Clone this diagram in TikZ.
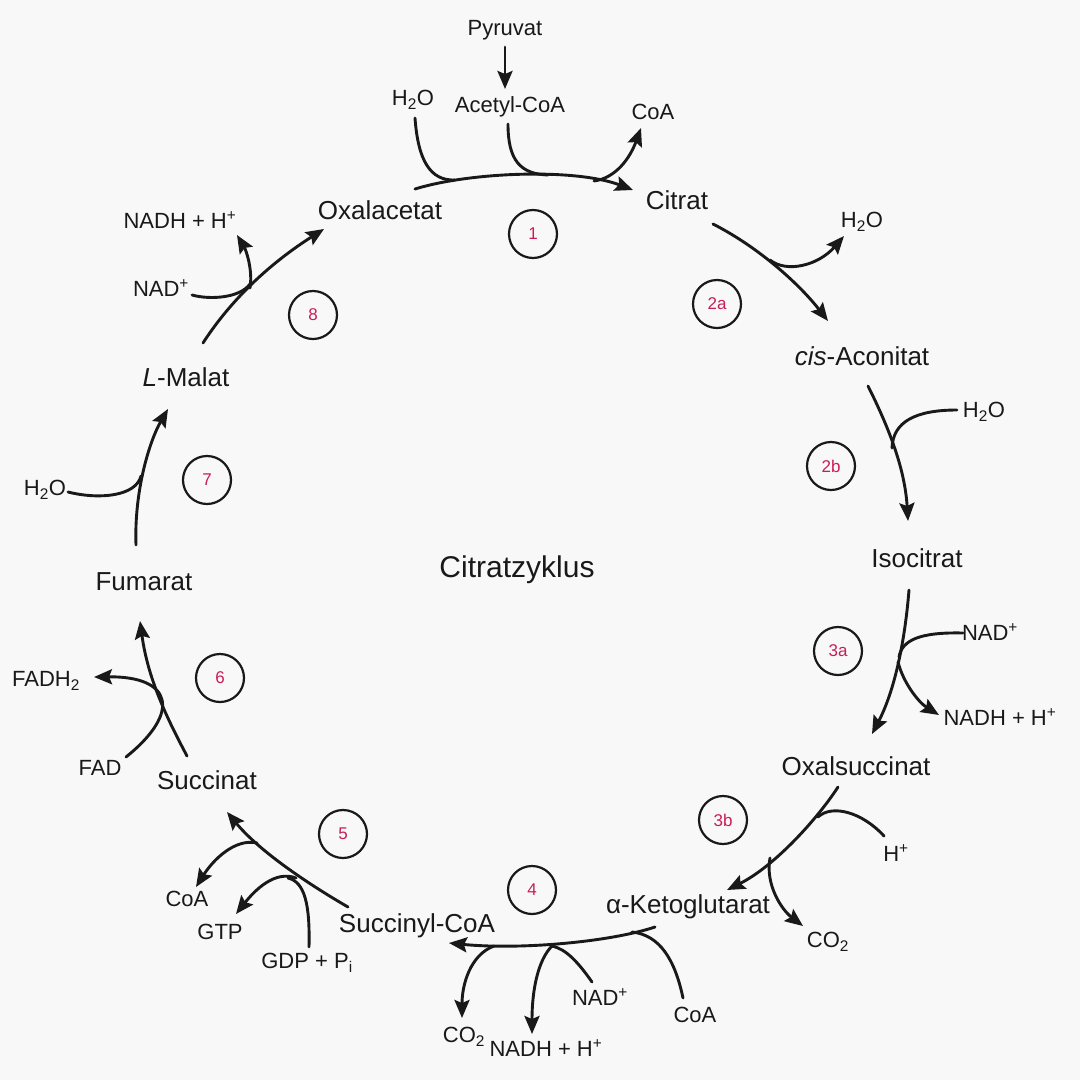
\documentclass[tikz,border=0pt]{standalone}
\usepackage{fontspec}
\setmainfont{Liberation Sans}
\usetikzlibrary{arrows.meta}
\definecolor{bg}{RGB}{248,248,248}
\definecolor{numcol}{RGB}{200,30,85}
\definecolor{ink}{RGB}{25,25,25}
\tikzset{
  mainlbl/.style={font=\fontsize{26}{30}\selectfont, text=ink, inner sep=0pt},
  smalllbl/.style={font=\fontsize{22}{26}\selectfont, text=ink, inner sep=0pt},
  titlelbl/.style={font=\fontsize{30}{34}\selectfont, text=ink, inner sep=0pt},
  stepnum/.style={circle, draw=ink, line width=2.2pt, minimum size=48pt, inner sep=0pt, text=numcol, font=\fontsize{17}{20}\selectfont},
  flow/.style={line width=2.9pt, draw=ink, line cap=round},
  flowarr/.style={flow, -{Stealth[length=18pt,width=15pt,inset=3pt]}},
}
\begin{document}
\begin{tikzpicture}[x=1pt,y=-1pt]
\fill[bg] (0,0) rectangle (1080,1080);
\useasboundingbox (0,0) rectangle (1080,1080);

% ---------- main labels ----------
\node[mainlbl] (oxa) at (380,210) {Oxalacetat};
\node[mainlbl] (cit) at (677,200) {Citrat};
\node[mainlbl] (cisa) at (862,356) {\textit{cis}-Aconitat};
\node[mainlbl] (iso) at (917,558) {Isocitrat};
\node[mainlbl] (oxs) at (856,766) {Oxalsuccinat};
\node[mainlbl] (akg) at (688,907) {α-Ketoglutarat};
\node[mainlbl] (succoa) at (417,926) {Succinyl-CoA};
\node[mainlbl] (succ) at (207,780) {Succinat};
\node[mainlbl] (fum) at (144,582) {Fumarat};
\node[mainlbl] (mal) at (186,377) {\textit{L}-Malat};
\node[titlelbl] (title) at (517,570) {Citratzyklus};

% ---------- small labels ----------
\node[smalllbl] (pyr) at (505,30) {Pyruvat};
\node[smalllbl] (acoa) at (510,107) {Acetyl-CoA};
\node[smalllbl] (h2o1) at (413,100) {H\textsubscript{2}O};
\node[smalllbl] (coa1) at (653,112) {CoA};
\node[smalllbl] (h2o2a) at (862,222) {H\textsubscript{2}O};
\node[smalllbl] (h2o2b) at (984,412) {H\textsubscript{2}O};
\node[smalllbl] (nad3a) at (990,632) {NAD\textsuperscript{+}};
\node[smalllbl] (nadh3a) at (1000,717) {NADH + H\textsuperscript{+}};
\node[smalllbl] (h3b) at (896,853) {H\textsuperscript{+}};
\node[smalllbl] (co23b) at (828,942) {CO\textsubscript{2}};
\node[smalllbl] (coa4) at (695,1015) {CoA};
\node[smalllbl] (nad4) at (600,997) {NAD\textsuperscript{+}};
\node[smalllbl] (nadh4) at (546,1048) {NADH + H\textsuperscript{+}};
\node[smalllbl] (co24) at (464,1037) {CO\textsubscript{2}};
\node[smalllbl] (gdp) at (307,963) {GDP + P\textsubscript{i}};
\node[smalllbl] (gtp) at (220,932) {GTP};
\node[smalllbl] (coa5) at (187,899) {CoA};
\node[smalllbl] (fad) at (100,768) {FAD};
\node[smalllbl] (fadh2) at (46,681) {FADH\textsubscript{2}};
\node[smalllbl] (h2o7) at (45,490) {H\textsubscript{2}O};
\node[smalllbl] (nad8) at (161,288) {NAD\textsuperscript{+}};
\node[smalllbl] (nadh8) at (180,220) {NADH + H\textsuperscript{+}};

% ---------- step numbers ----------
\node[stepnum] (s1) at (533,234) {1};
\node[stepnum] (s2a) at (717,304) {2a};
\node[stepnum] (s2b) at (831,466) {2b};
\node[stepnum] (s3a) at (838,651) {3a};
\node[stepnum] (s3b) at (723,820) {3b};
\node[stepnum] (s4) at (532,890) {4};
\node[stepnum] (s5) at (343,834) {5};
\node[stepnum] (s6) at (220,678) {6};
\node[stepnum] (s7) at (207,480) {7};
\node[stepnum] (s8) at (313,315) {8};

% ---------- coordinates ----------
% step 1
\coordinate (p0) at (505,47);
\coordinate (p1) at (505,89);
\coordinate (a1s) at (415,189);
\coordinate (a1e) at (633,190);
\coordinate (w1s) at (415,118);
\coordinate (w1e) at (455,180);
\coordinate (c1s) at (508,124);
\coordinate (c1e) at (548,175);
\coordinate (o1s) at (594,181);
\coordinate (o1e) at (641,128);
% step 2a
\coordinate (a2s) at (713,224);
\coordinate (a2e) at (828,321);
\coordinate (o2s) at (770,260);
\coordinate (o2e) at (844,236);
% step 2b
\coordinate (b2s) at (868,386);
\coordinate (b2e) at (908,521);
\coordinate (i2s) at (957,410);
\coordinate (i2e) at (892,448);
% step 3a
\coordinate (a3s) at (909,590);
\coordinate (a3e) at (872,734);
\coordinate (i3s) at (963,633);
\coordinate (i3e) at (899,657);
\coordinate (o3s) at (898,662);
\coordinate (o3e) at (939,715);
% step 3b
\coordinate (b3s) at (838,787);
\coordinate (b3e) at (727,890);
\coordinate (h3s) at (884,836);
\coordinate (h3e) at (818,817);
\coordinate (q3s) at (770,858);
\coordinate (q3e) at (803,926);
% step 4
\coordinate (a4s) at (655,927);
\coordinate (a4e) at (449,943);
\coordinate (k4s) at (683,998);
\coordinate (k4e) at (632,932);
\coordinate (n4s) at (592,982);
\coordinate (n4e) at (552,946);
\coordinate (m4s) at (552,946);
\coordinate (m4e) at (532,1034);
\coordinate (c4s) at (494,946);
\coordinate (c4e) at (462,1018);
% step 5
\coordinate (a5s) at (348,907);
\coordinate (a5e) at (227,812);
\coordinate (g5s) at (309,947);
\coordinate (g5e) at (288,878);
\coordinate (t5s) at (296,878);
\coordinate (t5e) at (236,914);
\coordinate (k5s) at (257,843);
\coordinate (k5e) at (196,887);
% step 6
\coordinate (a6s) at (187,756);
\coordinate (a6e) at (140,621);
\coordinate (f6s) at (126,757);
\coordinate (f6e) at (94,677);
% step 7
\coordinate (a7s) at (136,545);
\coordinate (a7e) at (168,409);
\coordinate (w7s) at (68,492);
\coordinate (w7e) at (141,476);
% step 8
\coordinate (a8s) at (203,343);
\coordinate (a8e) at (324,229);
\coordinate (n8s) at (192,295);
\coordinate (n8e) at (250,284);
\coordinate (m8s) at (250,288);
\coordinate (m8e) at (237,235);

% ---------- connectors ----------
\draw[flowarr] (p0) -- (p1);
% 1
\draw[flowarr] (a1s) .. controls (470,172) and (575,168) .. (a1e);
\draw[flow] (w1s) .. controls (418,160) and (430,181) .. (w1e);
\draw[flow] (c1s) .. controls (508,160) and (520,174) .. (c1e);
\draw[flowarr] (o1s) .. controls (616,178) and (630,158) .. (o1e);
% 2a
\draw[flowarr] (a2s) .. controls (760,248) and (800,285) .. (a2e);
\draw[flowarr] (o2s) .. controls (786,273) and (818,266) .. (o2e);
% 2b
\draw[flowarr] (b2s) .. controls (890,430) and (905,470) .. (b2e);
\draw[flow] (i2s) .. controls (915,410) and (893,422) .. (i2e);
% 3a
\draw[flowarr] (a3s) .. controls (905,640) and (895,690) .. (a3e);
\draw[flow] (i3s) .. controls (920,632) and (902,640) .. (i3e);
\draw[flowarr] (o3s) .. controls (903,682) and (918,702) .. (o3e);
% 3b
\draw[flowarr] (b3s) .. controls (818,818) and (775,866) .. (b3e);
\draw[flow] (h3s) .. controls (862,812) and (832,804) .. (h3e);
\draw[flowarr] (q3s) .. controls (765,885) and (782,910) .. (q3e);
% 4
\draw[flowarr] (a4s) .. controls (610,942) and (520,950) .. (a4e);
\draw[flow] (k4s) .. controls (675,960) and (660,935) .. (k4e);
\draw[flow] (n4s) .. controls (578,962) and (566,949) .. (n4e);
\draw[flowarr] (m4s) .. controls (538,960) and (532,990) .. (m4e);
\draw[flowarr] (c4s) .. controls (470,955) and (462,985) .. (c4e);
% 5
\draw[flowarr] (a5s) .. controls (310,885) and (260,852) .. (a5e);
\draw[flow] (g5s) .. controls (310,905) and (305,882) .. (g5e);
\draw[flowarr] (t5s) .. controls (275,870) and (255,890) .. (t5e);
\draw[flowarr] (k5s) .. controls (235,838) and (213,860) .. (k5e);
% 6
\draw[flowarr] (a6s) .. controls (168,720) and (148,680) .. (a6e);
\draw[flowarr] (f6s) .. controls (182,712) and (172,676) .. (f6e);
% 7
\draw[flowarr] (a7s) .. controls (134,490) and (150,440) .. (a7e);
\draw[flow] (w7s) .. controls (100,500) and (136,496) .. (w7e);
% 8
\draw[flowarr] (a8s) .. controls (232,298) and (272,262) .. (a8e);
\draw[flow] (n8s) .. controls (210,300) and (240,298) .. (n8e);
\draw[flowarr] (m8s) .. controls (253,270) and (246,250) .. (m8e);
\end{tikzpicture}
\end{document}
